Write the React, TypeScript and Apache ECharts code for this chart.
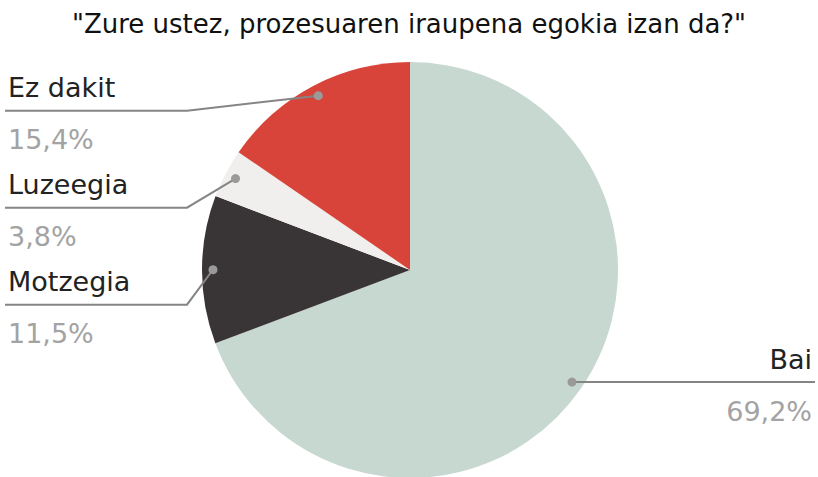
import React, { useEffect, useRef } from "react";
import * as echarts from "echarts";

const titleText = '"Zure ustez, prozesuaren iraupena egokia izan da?"';
const categories = ["Bai", "Motzegia", "Luzeegia", "Ez dakit"];
const values = [69.2, 11.5, 3.8, 15.4];
const colors = ["#c7d8d1", "#393435", "#f1efed", "#d8443a"];

const FONT = "DejaVu Sans";

export default function App() {
  const ref = useRef<HTMLDivElement>(null);
  useEffect(() => {
    document.body.style.margin = "0";
    if (!ref.current) return;
    const chart = echarts.init(ref.current, undefined, { renderer: "svg" });
    const cx = 410;
    const cy = 270;
    const R = 208;
    const dotR = 197;
    const total = values.reduce((a, b) => a + b, 0);
    let acc = 0;
    const items = values.map((v, i) => {
      const mid = ((acc + v / 2) / total) * Math.PI * 2;
      acc += v;
      return {
        name: categories[i],
        pct: v.toFixed(1).replace(".", ",") + "%",
        dx: cx + dotR * Math.sin(mid),
        dy: cy - dotR * Math.cos(mid),
        left: Math.sin(mid) < 0,
      };
    });
    const graphics: any[] = [];
    const leftItems = items.filter((d) => d.left).sort((a, b) => a.dy - b.dy);
    let prev = -1000;
    const placed: any[] = [];
    leftItems.forEach((d) => {
      const y = Math.max(d.dy + 15, prev + 97);
      prev = y;
      placed.push({ ...d, y });
    });
    items.filter((d) => !d.left).forEach((d) => placed.push({ ...d, y: d.dy }));
    placed.forEach((d) => {
      const kneeX = d.left ? 187 : d.dx;
      const endX = d.left ? 5 : 815;
      graphics.push({
        type: "polyline",
        z: 100,
        shape: { points: [[d.dx, d.dy], [kneeX, d.y], [endX, d.y]] },
        style: { stroke: "#858585", lineWidth: 2, fill: null },
      });
      graphics.push({
        type: "circle",
        z: 101,
        shape: { cx: d.dx, cy: d.dy, r: 4.5 },
        style: { fill: "#9a9a9a" },
      });
      graphics.push({
        type: "text",
        z: 101,
        x: d.left ? 8 : 812,
        y: d.y - 23,
        style: {
          text: d.name,
          fill: "#222222",
          font: `27px "${FONT}"`,
          align: d.left ? "left" : "right",
          verticalAlign: "middle",
        },
      });
      graphics.push({
        type: "text",
        z: 101,
        x: d.left ? 8 : 812,
        y: d.y + 29,
        style: {
          text: d.pct,
          fill: "#a3a3a3",
          font: `27px "${FONT}"`,
          align: d.left ? "left" : "right",
          verticalAlign: "middle",
        },
      });
    });
    chart.setOption({
      animation: false,
      title: {
        text: titleText,
        left: "center",
        top: 6,
        textStyle: { fontFamily: FONT, fontSize: 26, fontWeight: "normal", color: "#111111" },
      },
      series: [
        {
          type: "pie",
          center: [cx, cy],
          radius: R,
          startAngle: 90,
          clockwise: true,
          label: { show: false },
          labelLine: { show: false },
          emphasis: { disabled: true },
          data: values.map((v, i) => ({
            name: categories[i],
            value: v,
            itemStyle: { color: colors[i] },
          })),
        },
      ],
      graphic: graphics,
    });
    return () => chart.dispose();
  }, []);
  return <div ref={ref} style={{ width: 818, height: 477 }} />;
}
